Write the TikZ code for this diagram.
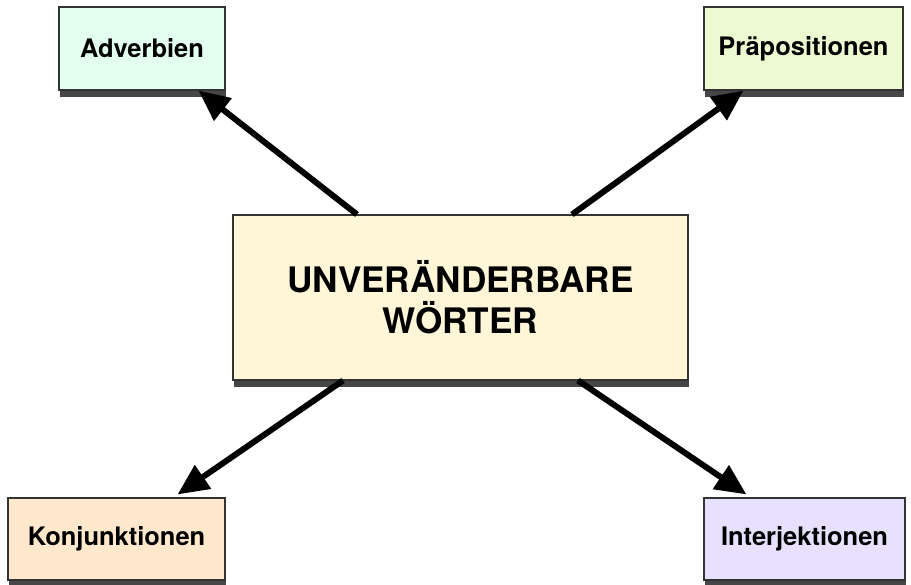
\documentclass[tikz,border=0pt]{standalone}
\usepackage{fontspec}
\setmainfont{TeX Gyre Heros}
\usetikzlibrary{arrows.meta, shadows}
\definecolor{mint}{RGB}{226, 255, 240}
\definecolor{lime}{RGB}{236, 250, 210}
\definecolor{cream}{RGB}{255, 245, 215}
\definecolor{peach}{RGB}{255, 232, 204}
\definecolor{lilac}{RGB}{232, 224, 255}
\definecolor{shade}{RGB}{70, 70, 70}

\begin{document}
\begin{tikzpicture}[
    x=1cm, y=1cm,
    wordbox/.style={
        rectangle, draw=black!80, line width=0.6pt, inner sep=0pt,
        font=\fontsize{14.5}{17}\selectfont\bfseries, align=center,
        drop shadow={shadow xshift=0.02cm, shadow yshift=-0.14cm, fill=shade, opacity=1}
    },
    link/.style={-{Triangle[length=0.62cm, width=0.55cm]}, line width=3.4pt}
]
    \useasboundingbox (0,0) rectangle (18.22,11.7);

    \node[wordbox, fill=cream, minimum width=9.1cm, minimum height=3.3cm,
          font=\fontsize{20}{23.3}\selectfont\bfseries] (main) at (9.21,5.75) {UNVERÄNDERBARE\\WÖRTER};

    \node[wordbox, fill=mint,  minimum width=3.32cm, minimum height=1.66cm] (adv)  at (2.84,10.73) {Adverbien};
    \node[wordbox, fill=lime,  minimum width=3.98cm, minimum height=1.66cm] (prep) at (16.07,10.73) {Präpositionen};
    \node[wordbox, fill=peach, minimum width=4.34cm, minimum height=1.64cm] (konj) at (2.33,0.92) {Konjunktionen};
    \node[wordbox, fill=lilac, minimum width=4.02cm, minimum height=1.64cm] (intj) at (16.09,0.92) {Interjektionen};

    \draw[link] ([xshift=-2.07cm]main.north) -- ([xshift=-0.54cm]adv.south east);
    \draw[link] ([xshift=2.23cm]main.north)  -- ([xshift=0.8cm]prep.south west);
    \draw[link] ([xshift=-2.35cm]main.south) -- ([xshift=-0.96cm,yshift=0.06cm]konj.north east);
    \draw[link] ([xshift=2.35cm]main.south)  -- ([xshift=0.86cm,yshift=0.06cm]intj.north west);
\end{tikzpicture}
\end{document}
